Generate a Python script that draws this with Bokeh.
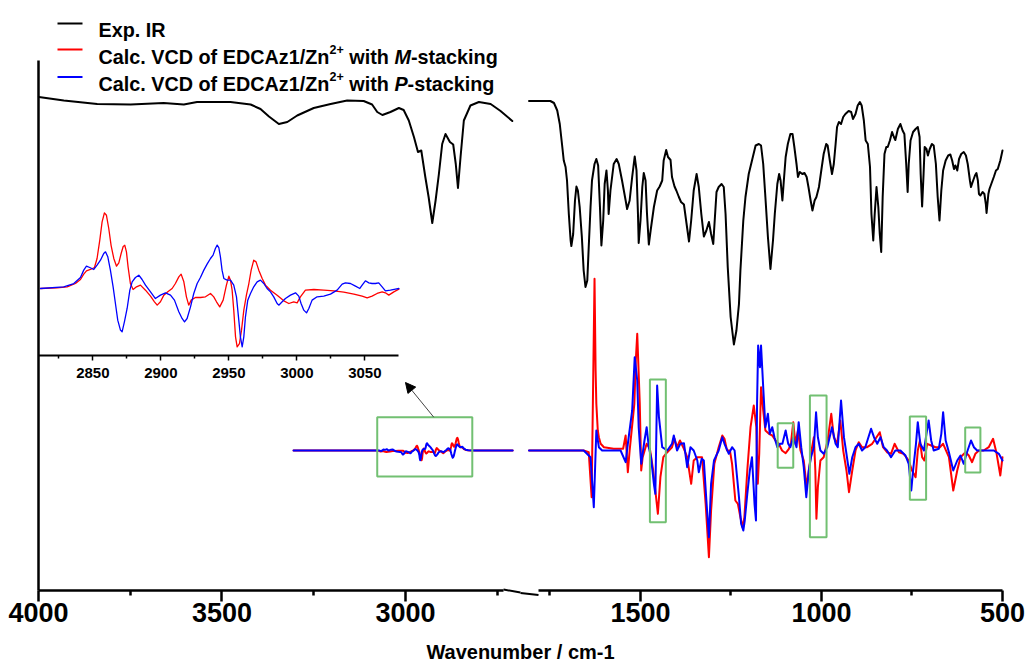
from bokeh.plotting import figure
from bokeh.models import Range1d, LinearAxis, FixedTicker, Label, Arrow, NormalHead
from bokeh.embed import file_html
from bokeh.resources import INLINE

# ---------------- data ----------------
# Experimental IR, transmittance (%), high-wavenumber window
ir_hi_wn = [3999, 3931, 3840, 3749, 3659, 3604, 3568, 3477, 3422, 3395, 3372, 3345, 3322,
            3295, 3250, 3204, 3159, 3114, 3091, 3077, 3063, 3041, 3018, 3005, 2991, 2977,
            2966, 2957, 2946, 2937, 2927, 2918, 2909, 2900, 2891, 2879, 2870, 2863, 2857,
            2850, 2841, 2823, 2800, 2768, 2741, 2709]
ir_hi_t = [100.1, 99.4, 98.7, 98.6, 98.9, 98.6, 99.1, 99.1, 98.6, 97.7, 96.2, 94.7, 95.1,
           96.4, 97.9, 98.7, 99.4, 99.3, 98.6, 97.1, 96.5, 97.1, 97.9, 97.5, 95.4, 92.1,
           89.1, 89.4, 84.1, 80.1, 74.9, 79.4, 84.7, 90.7, 92.7, 91.1, 90.6, 86.7, 81.9,
           88.1, 95.4, 98.4, 99.1, 98.7, 97.3, 95.3]

# Experimental IR, fingerprint window
ir_lo_wn = [1808, 1749, 1739, 1730, 1723, 1716, 1712, 1707, 1703, 1698, 1693, 1691, 1686,
            1681, 1677, 1673, 1668, 1662, 1657, 1652, 1647, 1643, 1638, 1634, 1627, 1622,
            1617, 1612, 1608, 1603, 1599, 1594, 1590, 1588, 1583, 1574, 1566, 1560, 1551,
            1541, 1537, 1530, 1523, 1516, 1511, 1507, 1505, 1500, 1495, 1491, 1486, 1482,
            1477, 1472, 1463, 1454, 1447, 1440, 1436, 1429, 1424, 1417, 1413, 1406, 1401,
            1394, 1388, 1380, 1374, 1366, 1360, 1353, 1345, 1339, 1332, 1325, 1318, 1311,
            1305, 1299, 1295, 1290, 1284, 1276, 1270, 1265, 1259, 1251, 1242, 1235, 1228,
            1224, 1216, 1210, 1201, 1192, 1182, 1173, 1167, 1161, 1155, 1148, 1141, 1134,
            1129, 1122, 1117, 1113, 1108, 1104, 1099, 1093, 1086, 1080, 1075, 1069, 1065,
            1060, 1053, 1047, 1041, 1036, 1030, 1025, 1019, 1014, 1007, 1000, 994, 987, 983,
            977, 971, 966, 961, 957, 952, 946, 940, 934, 925, 918, 913, 906, 900, 894, 889,
            883, 878, 872, 866, 862, 857, 853, 848, 843, 839, 835, 831, 826, 821, 817, 811,
            805, 800, 796, 789, 782, 776, 771, 766, 762, 759, 754, 747, 740, 734, 729, 726,
            722, 718, 715, 710, 706, 701, 695, 690, 684, 679, 674, 669, 664, 657, 650, 644,
            639, 634, 630, 625, 620, 614, 607, 601, 596, 590, 587, 581, 576, 572, 568, 565,
            561, 555, 550, 546, 544, 539, 536, 531, 524, 518, 513, 506, 500]
ir_lo_t = [99.3, 99.3, 98.9, 97.4, 94.7, 90.1, 87.4, 86.1, 83.4, 76.7, 71.4, 70.3, 72.7,
           79.4, 82.2, 81.4, 78.1, 72.1, 65.4, 62.1, 63.4, 70.1, 78.1, 83.4, 86.7, 87.7,
           86.4, 78.1, 70.4, 75.4, 82.7, 85.4, 81.4, 76.7, 81.4, 86.7, 87.7, 86.7, 83.4,
           79.4, 77.7, 79.4, 84.1, 88.2, 85.4, 76.7, 70.9, 75.4, 82.1, 84.9, 83.4, 76.7,
           70.6, 73.4, 78.1, 81.4, 82.2, 83.4, 87.4, 89.5, 88.1, 87.5, 84.1, 82.2, 81.4,
           80.1, 79.1, 78.6, 75.4, 71.2, 75.4, 81.4, 84.7, 82.1, 76.7, 72.2, 73.4, 75.1,
           72.7, 70.7, 75.4, 81.1, 82.1, 82.7, 82.1, 76.7, 66.1, 56.1, 50.6, 53.4, 58.7,
           65.4, 75.4, 80.1, 84.7, 87.4, 90.4, 90.7, 90.4, 86.7, 80.1, 72.1, 65.7, 71.4,
           76.7, 82.7, 84.7, 83.4, 79.4, 83.4, 88.1, 90.7, 92.7, 92.7, 90.1, 86.7, 84.1,
           85.1, 84.7, 84.9, 84.1, 82.1, 79.4, 77.4, 79.4, 80.1, 82.1, 85.7, 88.7, 90.7, 90.4,
           87.4, 84.7, 86.7, 90.7, 94.1, 95.1, 94.7, 96.1, 96.7, 97.3, 97.1, 95.7, 96.7, 98.4,
           99.1, 98.4, 95.4, 91.4, 90.7, 86.1, 76.7, 71.4, 76.7, 82.1, 78.1, 72.7, 69.1, 80.1,
           88.7, 90.1, 90.1, 91.4, 93.1, 92.1, 91.5, 93.7, 94.7, 93.4, 92.7, 86.7, 81.1, 86.7,
           91.4, 93.1, 93.7, 94.1, 92.1, 84.7, 78.2, 84.7, 90.1, 89.7, 88.4, 89.7, 90.7, 90.4,
           86.7, 80.1, 75.4, 81.4, 85.4, 87.4, 88.4, 88.6, 87.4, 85.7, 86.4, 85.4, 87.7, 88.7,
           89.1, 88.4, 86.7, 83.4, 82.1, 83.4, 84.4, 84.9, 83.4, 80.7, 80.4, 81.1, 80.7, 78.7,
           76.9, 80.7, 81.7, 82.7, 84.1, 85.4, 85.7, 87.4, 89.4]

# Calculated VCD, M-stacking, fingerprint window (arb. units)
vcd_m_wn = [1808, 1657, 1643, 1635, 1627, 1624, 1622, 1618, 1615, 1610, 1601, 1574, 1548,
            1541, 1535, 1530, 1517, 1513, 1509, 1502, 1498, 1494, 1483, 1474, 1465, 1459,
            1452, 1445, 1437, 1426, 1413, 1406, 1399, 1391, 1380, 1371, 1367, 1360, 1353,
            1343, 1330, 1320, 1311, 1305, 1296, 1284, 1274, 1268, 1261, 1253, 1247, 1238,
            1231, 1224, 1218, 1213, 1205, 1196, 1187, 1180, 1176, 1172, 1167, 1161, 1155,
            1145, 1136, 1127, 1118, 1109, 1099, 1090, 1084, 1078, 1072, 1065, 1058, 1049,
            1041, 1035, 1026, 1021, 1017, 1014, 1010, 1003, 994, 983, 973, 966, 957, 948,
            940, 931, 924, 915, 906, 897, 888, 874, 860, 848, 839, 830, 819, 808, 798, 786,
            773, 759, 750, 740, 734, 728, 722, 716, 708, 697, 685, 673, 664, 648, 636, 625,
            616, 602, 593, 584, 575, 565, 552, 538, 526, 517, 506, 500]
vcd_m = [0, 0, -1.7, -46.7, 171.7, 80, 46.7, 20, 13.3, 6.7, 3.3, 1.7, 1.7,
         15, -21.7, 0, 46.7, 90, 116.7, 46.7, -20, -6.7, 6.7, 1.7, -20, -40,
         -63.3, -26.7, -6.7, -1.7, 3.3, 11.7, 3.3, 10, 1.7, -6.7, -16.7, -33.3, -10,
         -6.7, -6.7, -53.3, -106.7, -60, -13.3, 3.3, 15, 11.7, 0, 0, -13.3, -50,
         -53.3, -66.7, -76.7, -66.7, -20, 23.3, 45, 23.3, -33.3, -3.3, 63.3, 40, 20,
         16.7, 15, 10, 6.7, 0, -2.7, 1.7, 8.3, 28.3, 6.7, 20, 0, -10,
         -36.7, -20, 3.3, 13.3, -20, -68.3, -36.7, -10, -6.7, 10, 36.7, 13.3, 6.7, 30,
         0, -20, -41.7, -20, 0, 8.3, 3.3, 3.3, 6.7, 13.3, 18.3, 3.3, -1.7, -3.3, 6.7, -1.7,
         -3.3, -10, -20, -26.7, 0, 10, -6.7, -10, 6.7, 5, 3.3, 3.3, 6.7, -6.7, -40, -20,
         -6.7, -1.7, -5, -11.7, -3.3, 0, 0, 3.3, 11.7, -1.7, -25, -6.7]

# Calculated VCD, P-stacking, fingerprint window
vcd_p_wn = [1808, 1657, 1638, 1629, 1622, 1615, 1606, 1555, 1541, 1535, 1523, 1516, 1509,
            1505, 1498, 1489, 1483, 1477, 1471, 1463, 1459, 1454, 1449, 1440, 1426, 1413,
            1408, 1399, 1390, 1380, 1371, 1362, 1353, 1343, 1339, 1331, 1325, 1318, 1311,
            1305, 1297, 1284, 1274, 1268, 1256, 1247, 1240, 1235, 1228, 1222, 1216, 1212,
            1205, 1198, 1192, 1185, 1181, 1178, 1175, 1170, 1167, 1161, 1155, 1148, 1143,
            1136, 1130, 1122, 1115, 1108, 1099, 1092, 1086, 1078, 1069, 1063, 1056, 1049,
            1042, 1035, 1029, 1021, 1015, 1010, 1003, 994, 984, 971, 961, 955, 946, 938,
            931, 923, 915, 906, 897, 888, 879, 863, 855, 846, 837, 828, 819, 808, 796, 782,
            768, 759, 752, 747, 739, 734, 727, 717, 710, 704, 697, 690, 676, 669, 664, 657,
            648, 636, 625, 616, 607, 598, 587, 579, 570, 556, 542, 524, 510, 500]
vcd_p = [0, 0, -6.7, -56.7, 20, 3.3, 0, 0, -11.7, 6.7, 40, 93.3, 70,
         23.3, -13.3, 10, 23.3, 3.3, -6.7, -33.3, -43.3, 65, 33.3, 3.3, 0, 6.7,
         15, 0, 6.7, 7.3, -16.7, 3.3, 0, -10, -21.7, -8.3, -10, -50, -86.7,
         -33.3, -10, 0, 13.3, 6.7, -3.3, 3.3, 0, -20, -46.7, -73.3, -80, -70,
         -43.3, -20, -6.7, -53.3, -70, 46.7, 105, 83.3, 105, 63.3, 23.3, 36.7, 16.7,
         23.3, 13.3, 3.3, 6.7, 6.7, 20, 6.7, 3.3, 13.3, 3.3, 28.3, 3.3, -16.7,
         -46.7, -20, -6.7, 3.3, 38.3, 13.3, 0, -3.3, 3.3, 23.3, 6.7, 3.3, 50, 13.3,
         -3.3, -23.3, -6.7, 3.3, 6.7, 0, 3.3, 21.7, 13.3, 6.7, 13.3, 3.3, 0, -6.7, 0, 0,
         -5, -13.3, -40, -20, 6.7, 28.3, 6.7, 0, 16.7, 30, 10, 0, 1.7, 16.7, 38.3, 10,
         -1.7, -20, -10, -5, -13.3, -1.7, 10, 3.3, 0, 0, 0, 0, -3.3, -10]

# Calculated VCD in the C-H stretching region (same arb. units)
ch_m_wn = [2811.5, 2823.7, 2831.1, 2837.2, 2840.9, 2843.3, 2845.3, 2848.2, 2851.2, 2853.1,
           2855.1, 2856.8, 2858.5, 2860.0, 2861.7, 2863.4, 2865.4, 2867.4, 2869.1, 2870.8,
           2872.3, 2873.5, 2874.7, 2875.9, 2877.6, 2879.6, 2882.1, 2885.0, 2888.7, 2892.4,
           2895.3, 2897.3, 2899.7, 2902.2, 2905.1, 2908.3, 2910.7, 2913.2, 2914.9, 2916.9,
           2918.8, 2920.5, 2922.3, 2925.4, 2929.1, 2932.8, 2936.5, 2938.9, 2940.9, 2943.3,
           2945.8, 2948.2, 2950.0, 2951.2, 2952.4, 2953.6, 2954.9, 2956.1, 2957.8, 2959.3,
           2961.0, 2962.9, 2964.7, 2966.4, 2968.3, 2970.0, 2972.0, 2974.5, 2976.9, 2980.6,
           2985.5, 2990.4, 2994.1, 2997.7, 3000.2, 3002.6, 3006.3, 3012.5, 3019.8, 3027.2,
           3034.5, 3041.9, 3048.0, 3051.7, 3055.3, 3059.0, 3062.7, 3065.1, 3067.6, 3071.3,
           3075.0]
ch_m = [0, 0.11, 0.28, 0.83, 1.5, 2.39, 2.94, 3.17, 3.5, 5.0,
        8.06, 11.1, 12.6, 12.2, 10.0, 7.2, 5.0, 3.72, 4.28, 5.83,
        7.0, 7.2, 6.1, 3.6, 0.83, -0.17, 0.28, 0.56, -0.28, -1.28,
        -2.22, -2.78, -2.22, -1.11, -0.56, 0, 0.83, 1.94, 2.39, 1.11,
        -1.39, -2.78, -1.94, -1.5, -1.5, -1.39, -0.83, -1.39, -2.22, -3.06,
        -1.94, 0.56, 2.06, 1.39, -0.28, -3.61, -8.06, -9.72, -9.17, -6.94,
        -3.61, -1.11, 0.83, 3.06, 4.72, 4.44, 3.06, 1.67, 0.56, -0.28,
        -1.11, -2.06, -2.5, -2.22, -2.39, -1.39, -0.28, -0.17, -0.28, -0.39,
        -0.61, -0.94, -1.28, -1.56, -1.28, -0.83, -0.56, -0.72, -1.11, -0.56,
        -0.11]
ch_p_wn = [2811.5, 2828.6, 2836.0, 2840.9, 2843.3, 2845.3, 2847.7, 2850.7, 2853.1, 2855.6,
           2858.0, 2859.3, 2861.0, 2862.9, 2864.9, 2866.6, 2868.3, 2870.3, 2871.5, 2873.2,
           2875.2, 2877.2, 2878.9, 2881.3, 2883.8, 2886.2, 2888.7, 2892.4, 2896.0, 2899.7,
           2903.4, 2907.1, 2910.0, 2913.2, 2915.6, 2917.4, 2919.3, 2921.8, 2924.2, 2926.7,
           2929.1, 2931.6, 2934.0, 2936.5, 2938.4, 2940.1, 2941.4, 2942.6, 2943.8, 2945.0,
           2946.3, 2948.7, 2951.2, 2953.6, 2955.6, 2957.3, 2958.5, 2959.8, 2961.0, 2962.2,
           2963.9, 2965.9, 2968.3, 2970.8, 2973.2, 2975.7, 2978.1, 2980.6, 2983.0, 2985.5,
           2986.7, 2989.2, 2991.6, 2995.3, 2999.0, 3001.4, 3003.1, 3005.1, 3007.1, 3008.8,
           3011.2, 3014.9, 3019.8, 3024.7, 3029.6, 3033.3, 3035.7, 3039.4, 3043.1, 3046.3,
           3048.0, 3050.4, 3052.9, 3055.3, 3057.8, 3060.2, 3062.7, 3065.1, 3068.8, 3072.5,
           3075.0]
ch_p = [0, 0.28, 0.83, 1.83, 3.06, 3.72, 3.5, 3.17, 3.89, 4.72,
        5.83, 6.11, 5.28, 3.06, 0.28, -2.5, -5.28, -6.94, -7.22, -5.56,
        -3.33, -0.28, 1.11, 1.83, 2.22, 1.5, 0.56, -0.56, -1.67, -1.11,
        -0.72, -1.11, -1.94, -3.89, -5.0, -5.56, -5.0, -3.06, -0.83, 0.83,
        1.83, 3.06, 4.06, 5.0, 5.56, 6.67, 7.22, 6.83, 5.28, 3.06,
        1.67, 1.39, 1.39, 0.56, -1.39, -5.28, -8.06, -9.72, -8.06, -4.72,
        -1.94, -0.83, 0.28, 1.11, 1.39, 0.83, 0, -0.56, -1.39, -2.5,
        -2.78, -2.22, -1.67, -1.11, -0.72, -1.28, -2.5, -3.61, -4.06, -3.33,
        -1.94, -1.39, -1.28, -0.94, -0.28, 0.72, 0.94, 0.83, 0.39, 0,
        0.56, 1.28, 0.94, 0.83, 0.83, 0.94, 0.28, -0.39, -0.28, -0.11,
        0]
# computed spectra run flat out to these wavenumbers on either side of the C-H band
ch_flat_lo, ch_flat_hi = 2708, 3305

# highlighted bands (wavenumber span, VCD span)
box_wn_hi = [1474, 1121, 1032, 756, 603]
box_wn_lo = [1430, 1078, 986, 711, 561]
box_top = [71, 27.3, 55, 34, 23]
box_bottom = [-71.7, -17.3, -86.7, -49.3, -22]
ch_box = dict(wn_hi=3077, wn_lo=2818, top=33.3, bottom=-26)

# axis ticks
hi_ticks, hi_minor = [3000, 3500, 4000], [2750, 3250, 3750]
lo_ticks, lo_minor = [500, 1000, 1500], [750, 1250, 1750]
inset_ticks = [2850, 2900, 2950, 3000, 3050]
inset_minor = [2825, 2875, 2925, 2975, 3025]

# ---------------- figure ----------------
FONT = "Liberation Sans"
RED, BLUE, GREEN = "#ff0000", "#0000ff", "#72c072"
W, H = 1027, 664

# the frame fills the whole canvas; axes sit at fixed positions inside it
p = figure(width=W, height=H, output_backend="svg", toolbar_location=None,
           x_range=Range1d(4103.5, 1305.2), y_range=Range1d(-13.4, 119.4),
           x_axis_location=None, y_axis_location=None,
           min_border=0, outline_line_color=None,
           background_fill_color="white", border_fill_color="white")
p.grid.grid_line_color = None
p.extra_x_ranges = {"lo": Range1d(3268.0, 430.9), "inset_x": Range1d(2782.1, 3537.2)}
p.extra_y_ranges = {"vcd": Range1d(-214, 450), "inset_y": Range1d(-62.67, 48)}

LINE = dict(line_join="round", line_cap="round")

# IR
p.line(ir_hi_wn, ir_hi_t, line_color="black", line_width=2, **LINE)
p.line(ir_lo_wn, ir_lo_t, line_color="black", line_width=2, x_range_name="lo", **LINE)

# VCD, C-H window at full scale
for wn, v, c in ((ch_m_wn, ch_m, RED), (ch_p_wn, ch_p, BLUE)):
    p.line([ch_flat_lo] + wn + [ch_flat_hi], [0] + v + [0], line_color=c,
           line_width=2, y_range_name="vcd", **LINE)
# VCD, fingerprint window
p.line(vcd_m_wn, vcd_m, line_color=RED, line_width=2, x_range_name="lo",
       y_range_name="vcd", **LINE)
p.line(vcd_p_wn, vcd_p, line_color=BLUE, line_width=2, x_range_name="lo",
       y_range_name="vcd", **LINE)

# highlighted bands
p.quad(left=box_wn_hi, right=box_wn_lo, top=box_top, bottom=box_bottom, fill_color=None,
       line_color=GREEN, line_width=2, x_range_name="lo", y_range_name="vcd")
p.quad(left=[ch_box["wn_hi"]], right=[ch_box["wn_lo"]], top=[ch_box["top"]],
       bottom=[ch_box["bottom"]], fill_color=None, line_color=GREEN, line_width=2,
       y_range_name="vcd")

# inset: magnified C-H window
p.line(ch_m_wn, ch_m, line_color=RED, line_width=1.3, x_range_name="inset_x",
       y_range_name="inset_y", **LINE)
p.line(ch_p_wn, ch_p, line_color=BLUE, line_width=1.3, x_range_name="inset_x",
       y_range_name="inset_y", **LINE)

p.add_layout(Arrow(x_start=2923, y_start=ch_box["top"], x_end=3000, y_end=68,
                   y_range_name="vcd", line_color="#444444", line_width=1,
                   end=NormalHead(size=10, fill_color="black", line_color="black")))

# ---------------- axes ----------------
IR_FLOOR, IR_TOP = 1.4, 107.4     # y extent of the main axes box (IR units)


def style_axis(ax, size):
    ax.axis_line_width = 2.5
    ax.major_tick_line_width = 2.5
    ax.minor_tick_line_width = 2.5
    ax.major_tick_in = 0
    ax.minor_tick_in = 0
    ax.major_label_text_font = FONT
    ax.major_label_text_font_style = "bold"
    ax.major_label_text_font_size = size
    ax.major_label_text_color = "black"


ax_hi = LinearAxis(ticker=FixedTicker(ticks=hi_ticks, minor_ticks=hi_minor),
                   bounds=(2733, 4000), fixed_location=IR_FLOOR)
ax_lo = LinearAxis(ticker=FixedTicker(ticks=lo_ticks, minor_ticks=lo_minor),
                   bounds=(500, 1782), fixed_location=IR_FLOOR, x_range_name="lo")
for ax in (ax_hi, ax_lo):
    style_axis(ax, "27px")
    ax.major_tick_out = 11
    ax.minor_tick_out = 5
    ax.major_label_standoff = 1
    p.add_layout(ax, "below")

ax_y = LinearAxis(ticker=FixedTicker(ticks=[]), fixed_location=4000,
                  bounds=(IR_FLOOR, IR_TOP), major_label_text_font_size="0px",
                  major_tick_out=0, minor_tick_out=0, axis_line_width=2.5)
p.add_layout(ax_y, "left")

ax_in = LinearAxis(ticker=FixedTicker(ticks=inset_ticks, minor_ticks=inset_minor),
                   bounds=(2810, 3075), fixed_location=-11.17,
                   x_range_name="inset_x", y_range_name="inset_y")
style_axis(ax_in, "15px")
ax_in.axis_line_width = 2
ax_in.major_tick_line_width = 1.5
ax_in.minor_tick_line_width = 1.5
ax_in.major_tick_out = 5
ax_in.minor_tick_out = 3
ax_in.major_label_standoff = 7
p.add_layout(ax_in, "below")


# ---------------- texts (canvas pixels, y measured from the top) ----------------
def sy(py):
    return H - py


def seg(x0, y0, x1, y1, color, width):
    p.add_layout(Arrow(x_start=x0, y_start=sy(y0), x_end=x1, y_end=sy(y1),
                       start_units="screen", end_units="screen", end=None,
                       line_color=color, line_width=width))


# axis break marks
seg(503, 589, 520, 592, "black", 2)
seg(520, 592.5, 538, 594.5, "black", 2)

p.add_layout(Label(x=520, y=sy(651), x_units="screen", y_units="screen",
                   text="Wavenumber / cm-1", text_font=FONT, text_font_style="bold",
                   text_font_size="20px", text_color="black", text_align="center",
                   text_baseline="middle"))

# legend: text runs placed one after another (Arial-bold advance widths)
WIDTHS = {' ': 278, '.': 278, '/': 278, '-': 333, '+': 584, '1': 556, '2': 556, 'A': 722,
          'C': 722, 'D': 722, 'E': 667, 'I': 278, 'M': 833, 'P': 667, 'R': 722, 'V': 667,
          'Z': 611, 'a': 556, 'c': 556, 'f': 333, 'g': 611, 'h': 611, 'i': 278, 'k': 556,
          'l': 278, 'n': 611, 'o': 611, 'p': 611, 's': 556, 't': 333, 'w': 778, 'x': 556,
          'z': 500}


def runs(x, base, parts):
    for text, style, size, rise in parts:
        if text.strip():
            p.add_layout(Label(x=x, y=sy(base - rise), x_units="screen", y_units="screen",
                               text=text, text_font=FONT, text_font_style=style,
                               text_font_size=f"{size}px", text_color="black",
                               text_baseline="alphabetic"))
        x += sum(WIDTHS[c] for c in text) * size / 1000


LEG = 19.8
SUP = 12.5


def calc_row(handed):
    return [("Calc. VCD of EDCAz1/Zn", "bold", LEG, 0), ("2+", "bold", SUP, 7),
            (" ", "bold", LEG, 0), ("with", "bold", LEG, 0), (" ", "bold", LEG, 0),
            (handed, "bold italic", LEG, 0), ("-stacking", "bold", LEG, 0)]


legend_rows = [
    ("black", 23, 29.5, [("Exp. IR", "bold", LEG, 0)]),
    (RED, 49, 56, calc_row("M")),
    (BLUE, 76.5, 83, calc_row("P")),
]
for color, ymid, base, parts in legend_rows:
    seg(57, ymid, 82, ymid, color, 2)
    runs(98, base, parts)

open("out.html", "w").write(file_html(p, INLINE))
